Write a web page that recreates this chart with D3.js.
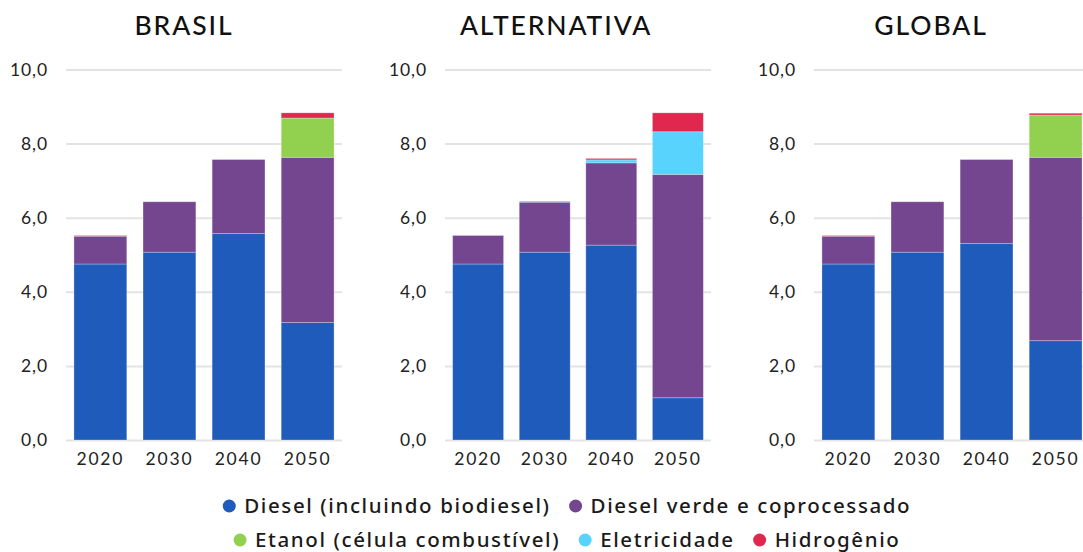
<!DOCTYPE html>
<html>
<head>
<meta charset="utf-8">
<script src="https://cdn.jsdelivr.net/npm/d3@7"></script>
<style>
  html, body { margin: 0; padding: 0; background: #fff; }
  svg { display: block; font-family: Lato, "Noto Sans", sans-serif; }
</style>
</head>
<body>
<svg id="chart" width="1083" height="552"></svg>
<script>
// Fuel demand by scenario (stacked), values per decade
const years = ["2020", "2030", "2040", "2050"];
const scenarios = ["BRASIL", "ALTERNATIVA", "GLOBAL"];
const seriesNames = [
  "Diesel (incluindo biodiesel)",
  "Diesel verde e coprocessado",
  "Etanol (célula combustível)",
  "Eletricidade",
  "Hidrogênio"
];
const seriesColors = ["#1f5bbb", "#74468f", "#92d050", "#58d3fe", "#e0284f"];
const yTicks = [0, 2, 4, 6, 8, 10];

// BRASIL
const brasilDiesel = [4.75, 5.07, 5.57, 3.17];
const brasilVerde = [0.75, 1.36, 2.00, 4.46];
const brasilEtanol = [0, 0, 0, 1.06];
const brasilEletricidade = [0, 0, 0, 0];
const brasilHidrogenio = [0.02, 0, 0, 0.14];

// ALTERNATIVA
const altDiesel = [4.75, 5.07, 5.26, 1.14];
const altVerde = [0.77, 1.35, 2.22, 6.03];
const altEtanol = [0, 0, 0, 0];
const altEletricidade = [0, 0.03, 0.08, 1.15];
const altHidrogenio = [0, 0, 0.04, 0.51];

// GLOBAL
const globalDiesel = [4.75, 5.07, 5.30, 2.68];
const globalVerde = [0.75, 1.36, 2.27, 4.95];
const globalEtanol = [0, 0, 0, 1.14];
const globalEletricidade = [0, 0, 0, 0];
const globalHidrogenio = [0.02, 0, 0, 0.05];

const panelSeries = [
  [brasilDiesel, brasilVerde, brasilEtanol, brasilEletricidade, brasilHidrogenio],
  [altDiesel, altVerde, altEtanol, altEletricidade, altHidrogenio],
  [globalDiesel, globalVerde, globalEtanol, globalEletricidade, globalHidrogenio]
];

const svg = d3.select("#chart");
const textColor = "#222";

// horizontal extent of each panel's plotting area and title centre
const panelLayout = [
  { x0: 66, x1: 342, titleX: 184 },
  { x0: 445, x1: 711, titleX: 556 },
  { x0: 814, x1: 1090, titleX: 931 }
];

const y = d3.scaleLinear().domain([0, 10]).range([440, 69.5]);
const fmt = d => d.toFixed(1).replace(".", ",");

panelLayout.forEach((p, i) => {
  const g = svg.append("g");
  const x = d3.scaleBand().domain(years).range([p.x0, p.x1])
    .paddingInner(0.235).paddingOuter(0.115);

  // title
  g.append("text")
    .attr("x", p.titleX).attr("y", 35)
    .attr("text-anchor", "middle")
    .attr("font-size", 26.5).attr("font-weight", 500)
    .attr("letter-spacing", 1.9)
    .attr("fill", "#111")
    .text(scenarios[i]);

  // gridlines + y labels
  const yAxis = d3.axisLeft(y).tickValues(yTicks).tickFormat(fmt)
    .tickSize(-(p.x1 - p.x0)).tickPadding(18);
  const ya = g.append("g").attr("transform", `translate(${p.x0},0)`).call(yAxis);
  ya.select(".domain").remove();
  ya.selectAll(".tick line").attr("stroke", "#e3e3e3").attr("stroke-width", 2);
  ya.selectAll(".tick text").attr("fill", textColor)
    .attr("font-size", 17.5).attr("font-family", "Lato, sans-serif")
    .attr("letter-spacing", 0.9);

  // stacked bars
  const rows = years.map((yr, j) => {
    const r = { year: yr };
    seriesNames.forEach((s, k) => { r[s] = panelSeries[i][k][j]; });
    return r;
  });
  const stacked = d3.stack().keys(seriesNames)(rows);
  g.selectAll("g.layer").data(stacked).join("g")
    .attr("class", "layer")
    .attr("fill", (d, k) => seriesColors[k])
    .selectAll("rect").data(d => d).join("rect")
    .attr("x", d => x(d.data.year))
    .attr("width", x.bandwidth())
    .attr("y", d => y(d[1]))
    .attr("height", d => Math.max(0, y(d[0]) - y(d[1])))
    .attr("stroke", "#ffffff").attr("stroke-opacity", 0.35).attr("stroke-width", 0.8);

  // x labels
  const xAxis = d3.axisBottom(x).tickSize(0).tickPadding(12);
  const xa = g.append("g").attr("transform", "translate(0,441)").call(xAxis);
  xa.select(".domain").remove();
  xa.selectAll(".tick text").attr("fill", textColor)
    .attr("font-size", 17.5).attr("font-family", "Lato, sans-serif")
    .attr("letter-spacing", 1.8);
});

// legend, two centred rows
const legendRows = [
  { items: [0, 1], y: 506 },
  { items: [2, 3, 4], y: 540 }
];
const legendCenter = 567;
legendRows.forEach(row => {
  const lg = svg.append("g");
  let cx = 0;
  row.items.forEach(k => {
    const item = lg.append("g").attr("transform", `translate(${cx},0)`);
    item.append("circle").attr("cx", 0).attr("cy", row.y).attr("r", 6.5)
      .attr("fill", seriesColors[k]);
    const t = item.append("text").attr("x", 15).attr("y", row.y)
      .attr("dy", "0.35em")
      .attr("font-family", "'Noto Sans', sans-serif")
      .attr("font-size", 20.5).attr("font-weight", 500)
      .attr("letter-spacing", 1.6)
      .attr("fill", "#1a1a1a").text(seriesNames[k]);
    const w = t.node().getComputedTextLength();
    cx += 15 + w + 25;
  });
  const bbox = lg.node().getBBox();
  lg.attr("transform", `translate(${legendCenter - (bbox.x + bbox.width / 2)},0)`);
});
</script>
</body>
</html>
